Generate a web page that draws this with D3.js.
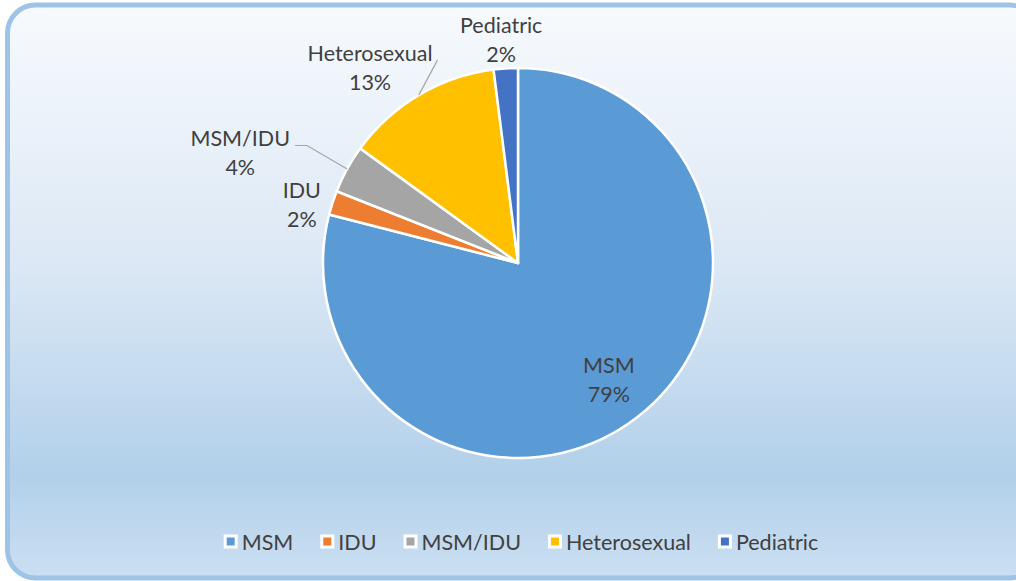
<!DOCTYPE html>
<html>
<head>
<meta charset="utf-8">
<script src="https://cdn.jsdelivr.net/npm/d3@7"></script>
<style>
  body { margin: 0; background: #ffffff; }
  svg { display: block; }
  text { font-family: Lato, "Open Sans", sans-serif; fill: #404040; }
</style>
</head>
<body>
<svg width="1016" height="581"></svg>
<script>
// chart data (percent of cases)
var categories = ["MSM", "IDU", "MSM/IDU", "Heterosexual", "Pediatric"];
var values = [79, 2, 4, 13, 2];
var colors = ["#5b9bd5", "#ed7d31", "#a5a5a5", "#ffc000", "#4472c4"];

var svg = d3.select("svg"),
    width = +svg.attr("width"),
    height = +svg.attr("height");

var cx = 518, cy = 263, radius = 195;
var fontSize = 21.5;

// label layout, roughly like excel's "best fit" plus manual drags
var labelLayout = {
    "MSM": { inside: true, r: 0.76 },
    "IDU": { dx: -7, dy: 10 },
    "MSM/IDU": { dx: -85, dy: -4, leader: true, elbow: 12 },
    "Heterosexual": { dx: -36, dy: -6, leader: true, elbow: 0 },
    "Pediatric": { dx: -3, dy: -3 }
};

// background + frame
var defs = svg.append("defs");
var grad = defs.append("linearGradient")
    .attr("id", "bg")
    .attr("x1", 0).attr("y1", 0)
    .attr("x2", 0).attr("y2", 1);
grad.append("stop").attr("offset", "0%").attr("stop-color", "#f7fafd");
grad.append("stop").attr("offset", "45%").attr("stop-color", "#dce8f5");
grad.append("stop").attr("offset", "82%").attr("stop-color", "#b2d0ea");
grad.append("stop").attr("offset", "100%").attr("stop-color", "#cbdff2");

svg.append("rect")
    .attr("x", 7.5)
    .attr("y", 5)
    .attr("width", 1030)
    .attr("height", 573)
    .attr("rx", 28)
    .attr("fill", "url(#bg)")
    .attr("stroke", "#9dc3e6")
    .attr("stroke-width", 5);

var data = categories.map(function(c, i) {
    return { name: c, value: values[i], color: colors[i] };
});

var pie = d3.pie()
    .sort(null)
    .value(function(d) { return d.value; });

var arc = d3.arc()
    .innerRadius(0)
    .outerRadius(radius);

var arcs = pie(data);
var total = d3.sum(values);

var g = svg.append("g")
    .attr("transform", "translate(" + cx + "," + cy + ")");

g.selectAll(".slice")
    .data(arcs)
    .enter().append("path")
    .attr("class", "slice")
    .attr("d", arc)
    .attr("fill", function(d) { return d.data.color; })
    .attr("stroke", "#ffffff")
    .attr("stroke-width", 2.5)
    .attr("stroke-linejoin", "round");

function polar(a, r) {
    return [r * Math.sin(a), -r * Math.cos(a)];
}

var lineGap = 29;

arcs.forEach(function(d) {
    var lay = labelLayout[d.data.name];
    var mid = (d.startAngle + d.endAngle) / 2;
    var p;
    if (lay.inside) {
        p = polar(mid, radius * lay.r);
    } else {
        p = polar(mid, radius + 25);
        p = [p[0] + lay.dx, p[1] + lay.dy];
    }
    var pct = Math.round(d.data.value / total * 100) + "%";

    var lbl = g.append("text")
        .attr("text-anchor", "middle")
        .style("font-size", fontSize + "px");
    lbl.append("tspan")
        .attr("x", p[0])
        .attr("y", p[1] - lineGap / 2)
        .attr("dy", "0.35em")
        .text(d.data.name);
    lbl.append("tspan")
        .attr("x", p[0])
        .attr("y", p[1] + lineGap / 2)
        .attr("dy", "0.35em")
        .text(pct);

    if (lay.leader) {
        var bb = lbl.node().getBBox();
        var edge = polar(mid, radius);
        var ex = bb.x + bb.width + 5;
        var ey = p[1] - lineGap / 2 + 7;
        var pts = [[ex, ey]];
        if (lay.elbow) pts.push([ex + lay.elbow, ey]);
        pts.push(edge);
        g.append("path")
            .attr("d", d3.line()(pts))
            .attr("fill", "none")
            .attr("stroke", "#a6a6a6")
            .attr("stroke-width", 1.2);
    }
});

// legend
var legend = svg.append("g");
var lx = 0;
var itemGap = 27;
data.forEach(function(d) {
    var item = legend.append("g").attr("transform", "translate(" + lx + ",0)");
    item.append("rect")
        .attr("x", 1.5)
        .attr("y", -6)
        .attr("width", 11)
        .attr("height", 11)
        .attr("fill", d.color)
        .attr("stroke", "#ffffff")
        .attr("stroke-width", 3);
    var t = item.append("text")
        .attr("x", 18)
        .attr("y", 0)
        .attr("dy", "0.35em")
        .style("font-size", fontSize + "px")
        .text(d.name);
    lx += 18 + t.node().getComputedTextLength() + itemGap;
});
var legendW = lx - itemGap;
legend.attr("transform", "translate(" + (521 - legendW / 2) + ",542)");
</script>
</body>
</html>
